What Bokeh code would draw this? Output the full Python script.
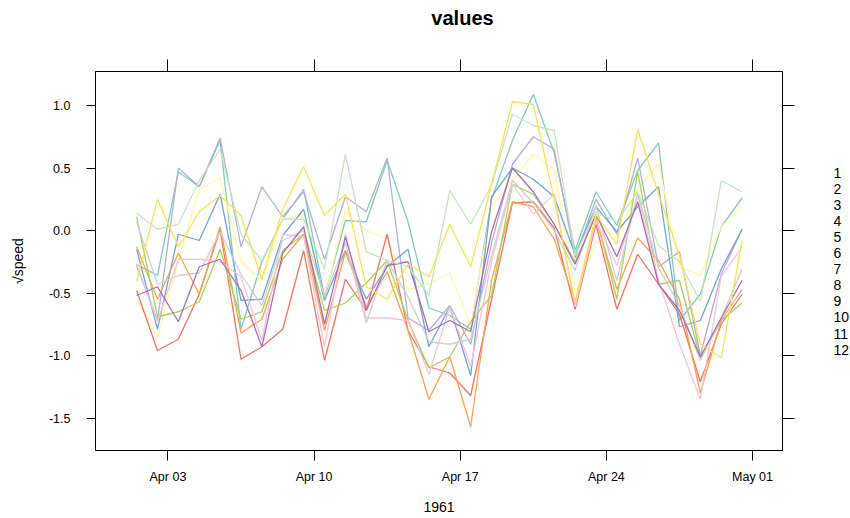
from datetime import datetime, timedelta
from bokeh.plotting import figure
from bokeh.layouts import row, column
from bokeh.core.properties import value
from bokeh.models import (Range1d, FixedTicker, DatetimeTickFormatter, DatetimeAxis,
                          LinearAxis, PrintfTickFormatter, CustomJSTickFormatter)
from bokeh.embed import file_html
from bokeh.resources import INLINE

# ---------------- data ----------------
dates = [datetime(1961, 4, 1, 12) + timedelta(days=i) for i in range(30)]
station_labels = [str(i) for i in range(1, 13)]
x_tick_dates = [datetime(1961, 4, 3), datetime(1961, 4, 10), datetime(1961, 4, 17),
                datetime(1961, 4, 24), datetime(1961, 5, 1)]
y_ticks = [-1.5, -1.0, -0.5, 0.0, 0.5, 1.0]

s1 = [-0.27, -0.36, 0.47, 0.35, 0.72, -0.79, -0.25, 0.09, 0.33, -0.53, 0.08, 0.07, 0.56, 0.07, -0.62,
      -0.68, -0.79, 0.25, 0.72, 1.09, 0.62, -0.16, 0.31, 0.04, 0.48, 0.70, -0.72, -0.51, 0.03, 0.26]
s2 = [-0.55, -0.85, -0.24, 0.33, 0.42, -0.25, -0.40, 0.10, 0.11, -0.55, 0.15, 0.00, -0.07, -0.47, -0.43,
      -0.34, -0.76, 0.19, 0.40, 0.61, 0.49, -0.49, -0.10, -0.05, 0.33, 0.54, -0.29, -0.36, 0.03, 0.19]
s3 = [-0.28, -0.72, 0.50, 0.35, 0.74, -0.13, 0.35, 0.11, 0.31, -0.23, 0.27, 0.15, 0.58, -0.70, -0.80,
      -0.60, -0.91, -0.10, 0.53, 0.75, 0.65, -0.22, 0.25, -0.03, 0.58, -0.29, -0.17, -1.00, -0.35, 0.01]
s4 = [-0.48, -0.96, -0.87, -0.51, 0.01, -1.03, -0.93, -0.79, -0.16, -1.04, -0.39, -0.64, -0.03, -0.80, -1.09,
      -1.14, -1.32, -0.55, 0.22, 0.23, 0.02, -0.63, 0.05, -0.63, -0.19, -0.43, -0.67, -1.21, -0.75, -0.51]
s5 = [-0.15, -0.79, -0.03, -0.08, 0.29, -0.56, -0.55, -0.04, 0.17, -0.56, -0.16, -0.55, -0.29, -0.15, -0.93,
      -0.61, -1.16, 0.27, 0.50, 0.41, 0.27, -0.19, 0.19, -0.01, 0.19, 0.35, -0.77, -0.72, -0.31, 0.01]
s6 = [-0.13, -0.55, -0.18, -0.51, 0.03, -0.82, -0.71, -0.23, -0.03, -0.80, -0.17, -0.61, -0.33, -0.80, -1.35,
      -1.01, -1.57, -0.40, 0.23, 0.19, -0.07, -0.58, 0.09, -0.47, -0.06, -0.24, -0.55, -1.30, -0.72, -0.47]
s7 = [0.11, -0.69, -0.65, -0.57, -0.15, -0.71, -0.65, -0.16, -0.03, -0.64, -0.58, -0.42, -0.24, -0.72, -1.10,
      -1.01, -0.73, -0.52, 0.37, 0.29, 0.05, -0.25, 0.12, -0.55, 0.47, -0.43, -0.40, -1.02, -0.72, -0.58]
s8 = [-0.27, -0.73, -0.23, -0.23, -0.25, -0.37, -0.88, -0.03, -0.05, -0.93, -0.03, -0.70, -0.70, -0.72, -1.15,
      -0.61, -1.09, -0.25, 0.37, 0.13, 0.29, -0.61, 0.08, -0.28, 0.28, -0.40, -0.91, -1.35, -0.37, -0.13]
s9 = [0.07, -0.43, -0.36, -0.34, -0.01, -0.35, -0.60, -0.08, 0.00, -0.53, -0.10, -0.74, -0.24, -0.53, -0.89,
      -0.91, -0.87, -0.20, 0.40, 0.22, 0.00, -0.32, 0.20, -0.40, 0.30, -0.30, -0.60, -1.04, -0.70, -0.31]
s10 = [-0.52, -0.45, -0.73, -0.29, -0.23, -0.48, -0.93, -0.18, 0.03, -0.75, -0.05, -0.64, -0.28, -0.25, -0.81,
       -0.72, -0.81, -0.01, 0.50, 0.31, 0.05, -0.27, 0.13, -0.21, 0.23, -0.43, -0.64, -1.01, -0.70, -0.40]
s11 = [0.14, 0.01, 0.05, 0.40, 0.65, -0.03, -0.24, 0.09, 0.09, -0.31, 0.61, -0.17, -0.24, -0.29, -0.52,
       0.32, 0.05, 0.36, 0.93, 0.84, 0.80, -0.20, 0.15, 0.07, 0.31, -0.12, -0.25, -0.57, 0.40, 0.31]
s12 = [-0.41, 0.25, -0.13, 0.15, 0.28, 0.12, -0.39, 0.17, 0.51, 0.12, 0.29, -0.45, -0.55, -0.27, -0.37,
       0.05, -0.29, 0.37, 1.03, 1.01, 0.25, -0.58, 0.13, -0.11, 0.81, 0.29, -0.20, -0.91, -1.02, -0.08]
series = [s1, s2, s3, s4, s5, s6, s7, s8, s9, s10, s11, s12]

colors = ["#7FCDBB", "#FFF8A0", "#B4AEDA", "#F8705F", "#6FA7D2", "#FCA24E",
          "#A6D652", "#F9C2DA", "#D0D0D0", "#AE6DB2", "#C3E6BC", "#FFE04F"]

# ---------------- layout ----------------
FONT = "Liberation Sans"
MAIN_W, LEG_W, TOTAL_H, TITLE_H = 820, 30, 518, 34
H = TOTAL_H - TITLE_H
FRAME_LEFT, FRAME_RIGHT = 95, 782
FRAME_TOP, FRAME_BOTTOM = 71, 450          # page coordinates
x_start = datetime(1961, 4, 3) - timedelta(days=72.5 / 20.9)
x_end = datetime(1961, 5, 1) + timedelta(days=30 / 20.9)
y_lo, y_hi = -1.76, 1.272

p = figure(width=MAIN_W, height=H, x_axis_type="datetime",
           x_range=Range1d(x_start, x_end), y_range=Range1d(y_lo, y_hi),
           output_backend="svg", toolbar_location=None,
           min_border_left=FRAME_LEFT, min_border_right=MAIN_W - FRAME_RIGHT,
           min_border_top=FRAME_TOP - TITLE_H, min_border_bottom=TOTAL_H - FRAME_BOTTOM)
p.title.text = ""
p.title.visible = False
p.grid.visible = False
p.outline_line_color = "black"
p.outline_line_width = 1
p.background_fill_color = "white"
p.border_fill_color = "white"

for s, c in zip(series, colors):
    p.line(dates, s, line_color=c, line_width=1.3)

xt = FixedTicker(ticks=[(d - datetime(1970, 1, 1)).total_seconds() * 1000 for d in x_tick_dates])
yt = FixedTicker(ticks=y_ticks)
blank = CustomJSTickFormatter(code="return ''")


def style_axis(ax, tick_len):
    ax.axis_line_color = "black"
    ax.major_tick_line_color = "black"
    ax.minor_tick_line_color = None
    ax.major_tick_in = 0
    ax.major_tick_out = tick_len
    ax.major_label_text_font = FONT
    ax.major_label_text_font_size = "12.5px"
    ax.major_label_text_color = "black"
    ax.axis_label_text_font = FONT
    ax.axis_label_text_font_style = "normal"
    ax.axis_label_text_font_size = "14px"
    ax.axis_label_text_color = "black"


xa = p.xaxis[0]
style_axis(xa, 10)
xa.ticker = xt
xa.formatter = DatetimeTickFormatter(days="%b %d", months="%b %d", hours="%b %d")
xa.major_label_standoff = 9
xa.axis_label = "1961"
xa.axis_label_standoff = 15

ya = p.yaxis[0]
style_axis(ya, 9)
ya.ticker = yt
ya.formatter = PrintfTickFormatter(format="%.1f")
ya.major_label_standoff = 16
ya.axis_label = "√speed"
ya.axis_label_standoff = 20

top = DatetimeAxis(ticker=xt, formatter=blank)
style_axis(top, 12)
top.major_label_standoff = 0
p.add_layout(top, "above")

right = LinearAxis(ticker=yt, formatter=blank)
style_axis(right, 12)
p.add_layout(right, "right")


def px_to_t(px):
    return x_start + (x_end - x_start) * ((px - FRAME_LEFT) / (FRAME_RIGHT - FRAME_LEFT))


def py_to_v(py):
    return y_hi - (y_hi - y_lo) * (py - FRAME_TOP) / (FRAME_BOTTOM - FRAME_TOP)


# title strip (same horizontal frame as the main panel)
tfig = figure(width=MAIN_W, height=TITLE_H, x_range=p.x_range, y_range=Range1d(TITLE_H, 0),
              x_axis_location=None, y_axis_location=None, output_backend="svg",
              toolbar_location=None, min_border_left=FRAME_LEFT,
              min_border_right=MAIN_W - FRAME_RIGHT, min_border_top=0, min_border_bottom=0)
tfig.title.visible = False
tfig.grid.visible = False
tfig.outline_line_color = None
tfig.background_fill_color = "white"
tfig.border_fill_color = "white"
tfig.text(x=[px_to_t(462)], y=[17], text=["values"], text_align="center",
          text_baseline="middle", text_font=value(FONT), text_font_style="bold",
          text_font_size=value("20px"), text_color="black")

# key: station numbers at right (frame aligned with the main panel, same y scale)
leg = figure(width=LEG_W, height=H, x_range=Range1d(0, LEG_W), y_range=p.y_range,
             x_axis_location=None, y_axis_location=None, output_backend="svg",
             toolbar_location=None, min_border=0)
leg.title.visible = False
leg.grid.visible = False
leg.outline_line_color = None
leg.background_fill_color = "white"
leg.border_fill_color = "white"
leg.text(x=[13] * len(station_labels),
         y=[py_to_v(172 + 16.1 * i) for i in range(len(station_labels))],
         text=station_labels, text_baseline="middle", text_align="left",
         text_font=value(FONT), text_font_size=value("14px"), text_color="black")

layout = column(tfig, row(p, leg, spacing=0), spacing=0)
open("out.html", "w").write(file_html(layout, INLINE))
